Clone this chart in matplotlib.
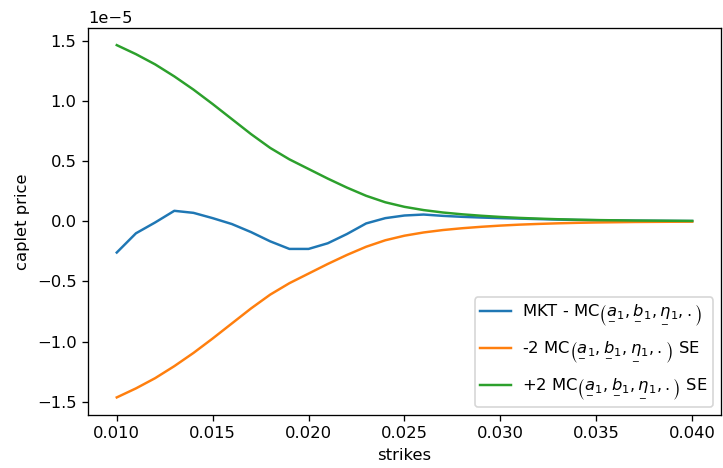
import matplotlib

matplotlib.use("Agg", force=True)

import matplotlib.pyplot as plt  # noqa: E402
import numpy as np  # noqa: E402

# strikes 0.010 .. 0.040
strikes = [0.010, 0.011, 0.012, 0.013, 0.014, 0.015, 0.016, 0.017, 0.018, 0.019,
           0.020, 0.021, 0.022, 0.023, 0.024, 0.025, 0.026, 0.027, 0.028, 0.029,
           0.030, 0.031, 0.032, 0.033, 0.034, 0.035, 0.036, 0.037, 0.038, 0.039,
           0.040]

# values in units of 1e-5
mkt_minus_mc = [-0.26, -0.10, -0.01, 0.087, 0.07, 0.026, -0.023, -0.09, -0.167, -0.23,
                -0.23, -0.183, -0.106, -0.018, 0.026, 0.048, 0.056, 0.045, 0.037, 0.031,
                0.026, 0.022, 0.018, 0.014, 0.011, 0.009, 0.007, 0.005, 0.004, 0.003,
                0.002]
plus_2se = [1.465, 1.39, 1.305, 1.205, 1.095, 0.975, 0.85, 0.725, 0.61, 0.515,
            0.435, 0.355, 0.28, 0.212, 0.158, 0.12, 0.093, 0.073, 0.058, 0.046,
            0.036, 0.028, 0.022, 0.017, 0.013, 0.010, 0.008, 0.006, 0.005, 0.004,
            0.003]
minus_2se = [-v for v in plus_2se]

# mathtext has no \underline, so the bar is stacked with \underset
mc_args = (r"$\left(\underset{\_}{a}_1, \underset{\_}{b}_1, "
           r"\underset{\_}{\eta}_1, .\right)$")
labels = [
    "MKT - MC" + mc_args,
    "-2 MC" + mc_args + " SE",
    "+2 MC" + mc_args + " SE",
]

dpi = 118
fig = plt.figure(figsize=(723 / dpi, 468 / dpi), dpi=dpi)
ax = fig.add_axes([0.1217, 0.1132, 0.8755, 0.828])

scale = 1e-5
ax.plot(strikes, np.array(mkt_minus_mc) * scale, label=labels[0])
ax.plot(strikes, np.array(minus_2se) * scale, label=labels[1])
ax.plot(strikes, np.array(plus_2se) * scale, label=labels[2])

ax.set_xticks([0.010, 0.015, 0.020, 0.025, 0.030, 0.035, 0.040])
ax.set_xlabel("strikes")
ax.set_ylabel("caplet price")
ax.legend(loc="lower right", labelspacing=0.7, borderpad=0.3,
          handlelength=1.9, handletextpad=0.7)

fig.savefig("out.png", dpi=dpi)
